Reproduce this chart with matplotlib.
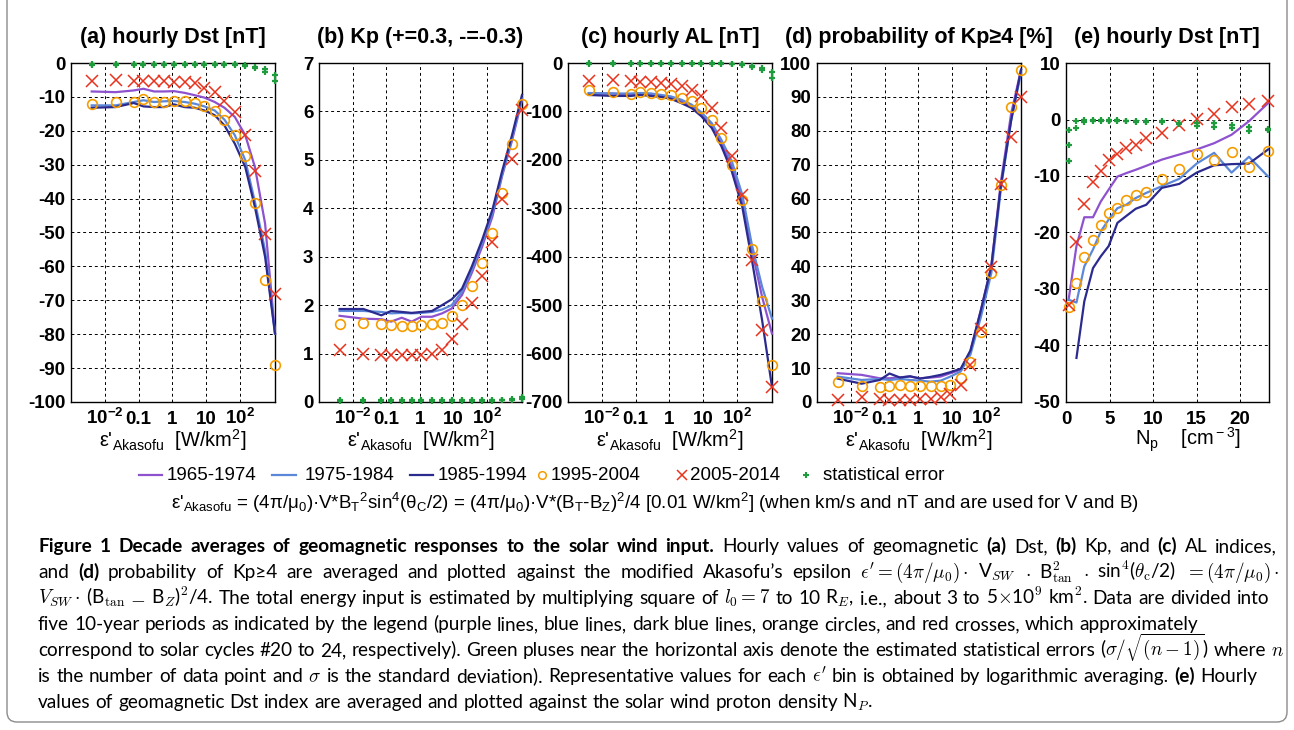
import matplotlib
matplotlib.use("Agg")
import matplotlib.pyplot as plt
import numpy as np
from matplotlib.lines import Line2D
from matplotlib.patches import FancyBboxPatch
from matplotlib.transforms import IdentityTransform

plt.rcParams['font.family'] = ['Liberation Sans', 'DejaVu Sans']
plt.rcParams['mathtext.fontset'] = 'custom'
plt.rcParams['mathtext.rm'] = 'Liberation Sans'
plt.rcParams['mathtext.it'] = 'Liberation Sans:italic'
plt.rcParams['mathtext.bf'] = 'Liberation Sans:bold'
plt.rcParams['mathtext.sf'] = 'Liberation Sans'
plt.rcParams['axes.unicode_minus'] = False

# ---- data ----
# epsilon' bins [W/km2], shared by panels a-d
eps = [0.0041, 0.021, 0.072, 0.14, 0.29, 0.57, 1.12, 2.3, 4.6, 8.9,
       18, 35, 71, 145, 280, 560, 1100]

# (a) hourly Dst [nT]
purple_a = [-8.4, -8.6, -8.1, -7.6, -8.4, -8.4, -8.3, -8.8, -9.5, -10.2, -11.5, -13.2, -15.9, -21.3, -30.7, -47.4, -79.8]
blue_a = [-12.5, -12.5, -11.5, -11.0, -11.5, -11.3, -11.2, -11.5, -12.0, -12.8, -14.0, -16.7, -21.3, -28.7, -41.0, -55.3, -79.8]
navy_a = [-13.2, -13.0, -11.8, -12.8, -13.0, -13.0, -12.2, -13.0, -13.2, -14.0, -15.4, -18.4, -23.8, -30.7, -42.5, -57.2, -79.8]
orange_a = [-12.0, -11.6, -11.6, -10.7, -11.5, -11.5, -11.3, -11.3, -11.8, -12.7, -14.2, -16.9, -21.1, -27.5, -41.3, -63.9, -89.2]
red_a = [-5.3, -4.9, -5.4, -5.4, -5.4, -5.4, -5.5, -5.6, -5.9, -7.4, -8.6, -11.3, -14.5, -21.3, -31.9, -50.3, -68.0]
err_a1 = [-0.3, -0.3, -0.3, -0.3, -0.3, -0.3, -0.3, -0.3, -0.3, -0.3, -0.3, -0.3, -0.4, -0.6, -1.2, -1.9, -3.4]
err_a2 = [-0.5, -0.5, -0.5, -0.5, -0.5, -0.5, -0.5, -0.5, -0.5, -0.5, -0.5, -0.6, -0.7, -0.9, -1.6, -2.7, -5.2]

# (b) Kp
purple_b = [1.78, 1.72, 1.71, 1.66, 1.74, 1.66, 1.76, 1.76, 1.83, 1.93, 2.21, 2.66, 3.20, 3.83, 4.66, 5.41, 6.24]
blue_b = [1.88, 1.88, 1.86, 1.83, 1.84, 1.83, 1.84, 1.86, 1.91, 2.00, 2.28, 2.72, 3.28, 3.90, 4.69, 5.45, 6.28]
navy_b = [1.92, 1.92, 1.79, 1.88, 1.86, 1.84, 1.86, 1.88, 2.00, 2.12, 2.34, 2.79, 3.34, 3.97, 4.76, 5.52, 6.34]
orange_b = [1.62, 1.64, 1.62, 1.59, 1.57, 1.57, 1.60, 1.62, 1.64, 1.78, 2.01, 2.39, 2.88, 3.50, 4.31, 5.32, 6.16]
red_b = [1.07, 1.00, 0.98, 0.98, 0.98, 0.98, 0.98, 1.00, 1.07, 1.31, 1.62, 2.05, 2.60, 3.31, 4.19, 5.01, 6.03]
err_b1 = [0.03, 0.03, 0.03, 0.03, 0.03, 0.03, 0.03, 0.03, 0.03, 0.03, 0.03, 0.03, 0.03, 0.03, 0.04, 0.05, 0.07]
err_b2 = [0.04, 0.04, 0.05, 0.04, 0.04, 0.04, 0.04, 0.04, 0.04, 0.04, 0.04, 0.04, 0.04, 0.04, 0.05, 0.07, 0.10]

# (c) hourly AL [nT]
purple_c = [-63, -63, -66, -63, -64, -68, -71, -79, -90, -106, -130, -166, -214, -283, -386, -483, -559]
blue_c = [-62, -63, -63, -62, -63, -66, -69, -76, -86, -102, -124, -159, -203, -272, -376, -462, -528]
navy_c = [-66, -68, -68, -66, -68, -70, -74, -83, -93, -110, -134, -172, -224, -297, -407, -531, -669]
orange_c = [-55, -59, -63, -60, -61, -63, -66, -72, -78, -92, -117, -155, -210, -283, -385, -492, -624]
red_c = [-38, -36, -38, -39, -39, -41, -43, -48, -55, -69, -93, -134, -193, -272, -407, -552, -669]
err_c1 = [-1, -1, -1, -1, -1, -1, -1, -1, -1, -1, -1, -1, -2, -3, -6, -10, -18]
err_c2 = [-2, -2, -2, -2, -2, -2, -2, -2, -2, -2, -2, -2, -3, -5, -9, -14, -32]

# (d) probability of Kp>=4 [%]  (its error marks sit under the axis and are not visible)
purple_d = [8.5, 8.0, 7.0, 7.0, 7.3, 7.5, 7.0, 7.2, 7.5, 8.5, 9.5, 15.0, 27.0, 40.0, 65.0, 85.0, 98.0]
blue_d = [7.5, 6.5, 6.8, 6.5, 6.8, 6.5, 6.3, 6.0, 6.3, 7.5, 9.0, 14.0, 25.0, 38.0, 63.0, 83.0, 97.0]
navy_d = [6.9, 5.4, 6.5, 8.4, 7.2, 7.6, 6.9, 7.4, 8.0, 8.8, 9.8, 15.2, 27.0, 40.0, 64.0, 83.0, 98.0]
orange_d = [6.0, 4.6, 4.4, 4.6, 4.9, 4.6, 4.6, 4.6, 4.6, 5.1, 7.2, 11.8, 20.6, 38.0, 64.0, 87.0, 98.0]
red_d = [0.7, 1.5, 1.0, 0.7, 0.7, 0.7, 0.8, 1.0, 1.5, 2.5, 4.9, 10.8, 21.6, 39.8, 64.4, 78.2, 90.0]

# (e) hourly Dst [nT] vs proton density [cm-3]
np_bins = [0.3, 1.2, 2.1, 3.1, 4.0, 4.9, 5.9, 6.9, 8.0, 9.2, 11.0, 13.0, 15.0, 17.0, 19.0, 21.0, 23.2]
purple_e = [-31.9, -22.4, -17.3, -17.3, -14.5, -12.4, -10.1, -9.5, -8.9, -8.2, -7.1, -6.2, -5.3, -4.2, -2.7, -0.3, 2.9]
blue_e = [-31.9, -32.4, -26.0, -23.0, -19.8, -17.7, -15.7, -15.1, -13.9, -13.0, -11.8, -10.5, -7.8, -5.9, -9.4, -6.6, -10.1]
navy_e = [np.nan, -42.2, -32.2, -26.3, -24.2, -22.4, -18.3, -17.1, -15.8, -15.1, -12.1, -11.4, -9.4, -8.1, -7.9, -7.8, -5.3]
orange_e = [-33.2, -28.9, -24.3, -21.4, -18.7, -16.5, -15.7, -14.2, -13.3, -12.9, -10.6, -8.8, -6.1, -7.1, -5.8, -8.4, -5.5]
red_e = [-32.8, -21.6, -14.9, -11.1, -9.2, -7.1, -6.1, -5.0, -4.5, -3.3, -2.4, -0.9, 0.1, 1.0, 2.2, 2.8, 3.2]
err_e1 = [-1.8, -0.3, 0.0, 0.0, 0.0, 0.0, -0.1, -0.2, -0.2, -0.2, -0.3, -0.6, -0.6, -0.7, -0.9, -1.3, -1.6]
err_e2 = [-4.6, -1.5, -0.4, -0.3, -0.3, -0.3, -0.3, -0.3, -0.4, -0.4, -0.5, -0.8, -1.2, -1.3, -1.5, -2.1, -1.9]
err_e3 = [-7.4, np.nan, np.nan, np.nan, np.nan, np.nan, np.nan, np.nan, np.nan, np.nan, np.nan, np.nan, np.nan, np.nan, np.nan, np.nan, np.nan]

decades = ["1965-1974", "1975-1984", "1985-1994", "1995-2004", "2005-2014", "statistical error"]

PURPLE = '#8e52cf'
BLUE = '#5b88d8'
NAVY = '#2b2a8f'
ORANGE = '#f59d00'
RED = '#e8331e'
GREEN = '#1e9b3c'

W, H = 1294, 730
fig = plt.figure(figsize=(W / 100, H / 100), dpi=100)


def add_px_axes(left, right, top=63, bottom=402):
    return fig.add_axes([left / W, 1 - bottom / H, (right - left) / W, (bottom - top) / H])


def draw_panel(ax, x, purple, blue, navy, orange, red, errs):
    ax.plot(x, purple, color=PURPLE, lw=1.6, clip_on=False, zorder=3)
    ax.plot(x, blue, color=BLUE, lw=1.6, clip_on=False, zorder=3)
    ax.plot(x, navy, color=NAVY, lw=1.6, clip_on=False, zorder=3)
    ax.plot(x, orange, 'o', mfc='none', mec=ORANGE, ms=7, mew=1.2, clip_on=False, zorder=4)
    ax.plot(x, red, 'x', color=RED, ms=8, mew=1.1, clip_on=False, zorder=4)
    for e in errs:
        ax.plot(x, e, '+', color=GREEN, ms=4.5, mew=1.6, clip_on=False, zorder=5)


def style_axes(ax, yticks, ylim, xticks, xlabels, xlim, logx):
    if logx:
        ax.set_xscale('log')
    ax.set_xlim(*xlim)
    ax.set_ylim(*ylim)
    ax.set_yticks(yticks, [str(v) for v in yticks], fontweight='bold', fontsize=13.5)
    ax.set_xticks(xticks, xlabels, fontweight='bold', fontsize=13.5)
    ax.minorticks_off()
    ax.tick_params(length=0)
    ax.tick_params(axis='y', pad=4)
    ax.tick_params(axis='x', pad=16)
    for lab in ax.get_xticklabels():
        lab.set_verticalalignment('baseline')
    ax.grid(True, color='black', ls=(0, (3, 3)), lw=0.7)
    ax.set_axisbelow(True)
    for s in ax.spines.values():
        s.set_linewidth(1.0)


eps_ticks = [1e-2, 1e-1, 1, 10, 100]
eps_labels = [r'$\mathbf{10^{-2}}$', '0.1', '1', '10', r'$\mathbf{10^{2}}$']
eps_lim = (1e-3, 1.1e3)
eps_xlabel = r"ε'$_{\rm Akasofu}$  [W/km$^{\rm 2}$]"

panels = [
    (71, 275, "(a) hourly Dst [nT]", purple_a, blue_a, navy_a, orange_a, red_a, [err_a1, err_a2],
     list(range(-100, 1, 10)), (-100, 0)),
    (319, 522, "(b) Kp (+=0.3, -=-0.3)", purple_b, blue_b, navy_b, orange_b, red_b, [err_b1, err_b2],
     list(range(0, 8)), (0, 7)),
    (568, 772, "(c) hourly AL [nT]", purple_c, blue_c, navy_c, orange_c, red_c, [err_c1, err_c2],
     list(range(-700, 1, 100)), (-700, 0)),
    (817, 1021, "(d) probability of Kp≥4 [%]", purple_d, blue_d, navy_d, orange_d, red_d, [],
     list(range(0, 101, 10)), (0, 100)),
]

for left, right, title, pu, bl, nv, orr, rd, errs, yt, yl in panels:
    ax = add_px_axes(left, right)
    draw_panel(ax, eps, pu, bl, nv, orr, rd, errs)
    style_axes(ax, yt, yl, eps_ticks, eps_labels, eps_lim, True)
    ax.text(0.5, -38 / 339, eps_xlabel, transform=ax.transAxes, ha='center', va='center', fontsize=14.5)
    fig.text((left + right) / 2 / W, 1 - 37 / H, title, ha='center', va='center',
             fontsize=15.5, fontweight='bold')

ax = add_px_axes(1066, 1269)
draw_panel(ax, np_bins, purple_e, blue_e, navy_e, orange_e, red_e, [err_e1, err_e2, err_e3])
style_axes(ax, list(range(-50, 11, 10)), (-50, 10), [0, 5, 10, 15, 20],
           ['0', '5', '10', '15', '20'], (0, 23.3), False)
ax.text(0.6, -38 / 339, r"N$_{\rm p}$    [cm$^{\rm -3}$]", transform=ax.transAxes,
        ha='center', va='center', fontsize=14.5)
fig.text(1167 / W, 1 - 37 / H, "(e) hourly Dst [nT]", ha='center', va='center',
         fontsize=15.5, fontweight='bold')

# ---- legend row ----
ly = 1 - 475 / H
for (x0, x1), col, lab, tx in [((139, 162), PURPLE, decades[0], 167),
                               ((272, 296), BLUE, decades[1], 305),
                               ((410, 433), NAVY, decades[2], 438)]:
    fig.add_artist(Line2D([x0 / W, x1 / W], [ly, ly], transform=fig.transFigure, color=col, lw=1.6))
    fig.text(tx / W, ly, lab, ha='left', va='center', fontsize=13.5)
fig.add_artist(Line2D([542 / W], [ly], transform=fig.transFigure, marker='o', mfc='none',
                      mec=ORANGE, ms=5.5, mew=1.1, ls='none'))
fig.text(551 / W, ly, decades[3], ha='left', va='center', fontsize=13.5)
fig.add_artist(Line2D([682 / W], [ly], transform=fig.transFigure, marker='x', color=RED,
                      ms=6.5, mew=1.1, ls='none'))
fig.text(690 / W, ly, decades[4], ha='left', va='center', fontsize=13.5)
fig.add_artist(Line2D([806 / W], [ly], transform=fig.transFigure, marker='+', color=GREEN,
                      ms=5, mew=1.5, ls='none'))
fig.text(823 / W, ly, decades[5], ha='left', va='center', fontsize=13.5)

formula = (r"ε'$_{\rm Akasofu}$ = (4π/μ$_{\rm 0}$)·V*B$_{\rm T}$$^{\rm 2}$sin$^{\rm 4}$(θ$_{\rm C}$/2)"
           r" = (4π/μ$_{\rm 0}$)·V*(B$_{\rm T}$-B$_{\rm Z}$)$^{\rm 2}$/4 [0.01 W/km$^{\rm 2}$]"
           r" (when km/s and nT and are used for V and B)")
fig.text(655 / W, 1 - 503 / H, formula, ha='center', va='center', fontsize=13.5)

# ---- caption ----
CAP_FONT = ['Lato', 'DejaVu Sans']
caption = [
    [("Figure 1 Decade averages of geomagnetic responses to the solar wind input.", True),
     (" Hourly values of geomagnetic ", False), ("(a)", True), (" Dst, ", False), ("(b)", True),
     (" Kp, and ", False), ("(c)", True), (" AL indices,", False)],
    [("and ", False), ("(d)", True),
     (" probability of Kp≥4 are averaged and plotted against the modified Akasofu’s epsilon "
      r"$\epsilon' = (4\pi/\mu_0)\cdot$ V$_{SW}$ $\cdot$ B$^2_{\rm tan}$ $\cdot$ sin$^4$($\theta_{\rm c}$/2)"
      r" $= (4\pi/\mu_0)\cdot$", False)],
    [(r"$V_{SW}\cdot$ (B$_{\rm tan}$ $-$ B$_Z$)$^2$/4. The total energy input is estimated by multiplying"
      r" square of $l_0 = 7$ to 10 R$_E$, i.e., about 3 to 5$\times$10$^9$ km$^2$. Data are divided into", False)],
    [("five 10-year periods as indicated by the legend (purple lines, blue lines, dark blue lines,"
      " orange circles, and red crosses, which approximately", False)],
    [("correspond to solar cycles #20 to 24, respectively). Green pluses near the horizontal axis"
      r" denote the estimated statistical errors ($\sigma/\sqrt{(n-1)}$) where $n$", False)],
    [(r"is the number of data point and $\sigma$ is the standard deviation). Representative values"
      r" for each $\epsilon'$ bin is obtained by logarithmic averaging.", False), (" ", False),
     ("(e)", True), (" Hourly", False)],
    [(r"values of geomagnetic Dst index are averaged and plotted against the solar wind proton density N$_P$.", False)],
]
# right end of each caption line in the reference [px]
cap_ends = [1277, 1280, 1269, 1198, 1284, 1257, 873]
cap_left = 38
cap_base0 = 552
cap_step = 26

renderer = fig.canvas.get_renderer()


def tokenize(runs):
    # split runs into words (outside $...$); keep whether a gap precedes each word
    words = []
    gap = False
    for txt, bold in runs:
        cur = ''
        in_math = False
        for ch in txt:
            if ch == '$':
                in_math = not in_math
                cur += ch
            elif ch == ' ' and not in_math:
                if cur:
                    words.append([cur, bold, gap])
                    cur = ''
                gap = True
            else:
                if not cur and not words:
                    gap = False
                cur += ch
        if cur:
            words.append([cur, bold, gap])
            gap = False
    if words:
        words[0][2] = False
    return words


def text_width(s, size, weight):
    t = fig.text(0, 0, s, fontsize=size, fontweight=weight, family=CAP_FONT, math_fontfamily='cm')
    w = t.get_window_extent(renderer).width
    t.remove()
    return w


def space_width(size):
    return text_width("n n", size, 'normal') - text_width("nn", size, 'normal')


def line_layout(runs, size):
    words = tokenize(runs)
    widths = [text_width(w, size, 'bold' if b else 'normal') for w, b, g in words]
    ngaps = sum(1 for w in words if w[2])
    return words, widths, ngaps


# font size calibrated on the plain fourth line
base_size = 13.0
sp0 = space_width(base_size)
words, widths, ngaps = line_layout(caption[3], base_size)
natural = sum(widths) + ngaps * sp0
cap_size = base_size * (cap_ends[3] - cap_left) / natural
sp = space_width(cap_size)

for i, runs in enumerate(caption):
    words, widths, ngaps = line_layout(runs, cap_size)
    gap = (cap_ends[i] - cap_left - sum(widths)) / max(ngaps, 1)
    gap = min(max(gap, 0.55 * sp), 2.0 * sp)
    x = cap_left
    yb = 1 - (cap_base0 + cap_step * i) / H
    for (w, b, g), wd in zip(words, widths):
        if g:
            x += gap
        fig.text(x / W, yb, w, fontsize=cap_size, fontweight='bold' if b else 'normal',
                 family=CAP_FONT, math_fontfamily='cm', ha='left', va='baseline')
        x += wd

box = FancyBboxPatch((7, H - 722), 1280, 760, boxstyle='round,pad=0,rounding_size=10',
                     transform=IdentityTransform(), fill=False, ec='#8c8c8c', lw=1.0)
fig.add_artist(box)

fig.savefig("out.png", dpi=100)
